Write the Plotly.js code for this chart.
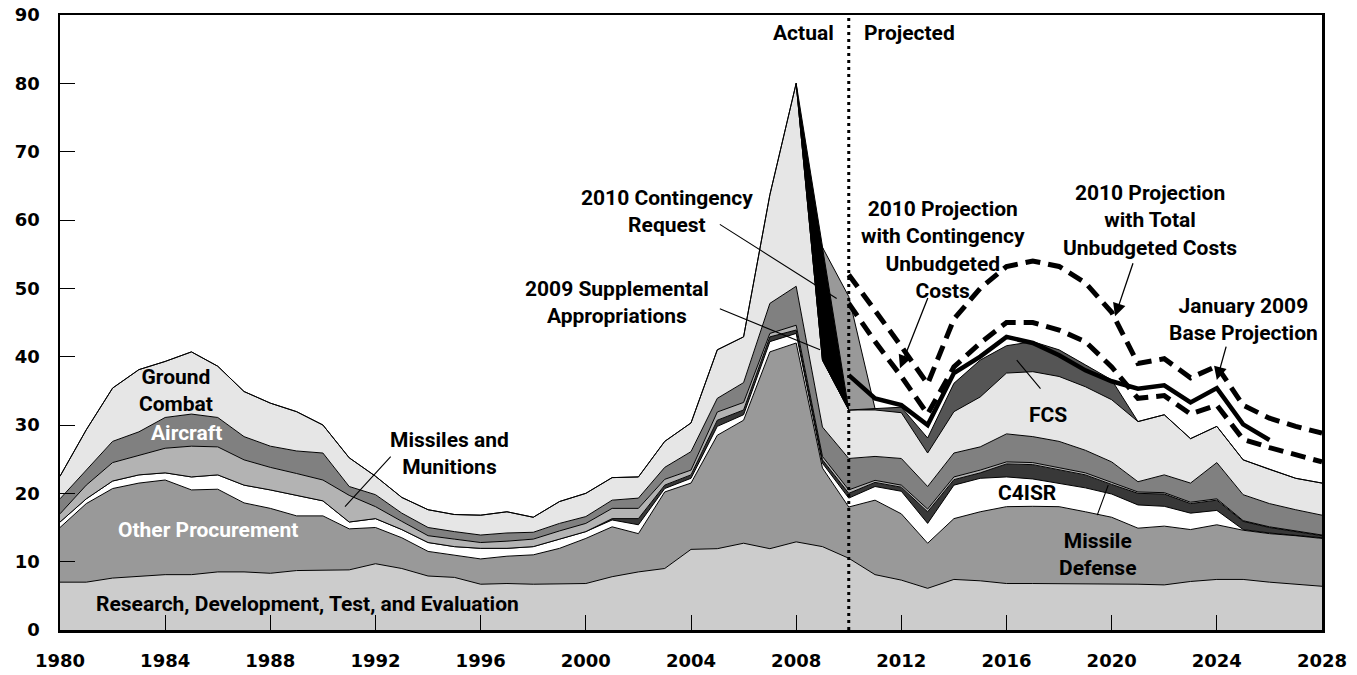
<!DOCTYPE html>
<html>
<head>
<meta charset="utf-8">
<script src="https://cdn.plot.ly/plotly-3.0.1.min.js"></script>
<style>
html,body{margin:0;padding:0;background:#fff;}
#chart{width:1357px;height:675px;}
</style>
</head>
<body>
<div id="chart"></div>
<script>
// ---------- DATA (billions of dollars) ----------
const years = [1980,1981,1982,1983,1984,1985,1986,1987,1988,1989,
               1990,1991,1992,1993,1994,1995,1996,1997,1998,1999,
               2000,2001,2002,2003,2004,2005,2006,2007,2008,2009,
               2010,2011,2012,2013,2014,2015,2016,2017,2018,2019,
               2020,2021,2022,2023,2024,2025,2026,2027,2028];

// cumulative top of each stacked layer
const rdteTop = [7.0,7.0,7.6,7.9,8.1,8.1,8.5,8.5,8.3,8.7,
                 8.7,8.8,9.7,9.0,7.9,7.7,6.7,6.8,6.7,6.7,
                 6.8,7.8,8.5,9.0,11.8,11.9,12.7,11.9,12.9,12.2,
                 10.5,8.1,7.3,6.1,7.4,7.2,6.8,6.8,6.8,6.8,
                 6.8,6.7,6.6,7.1,7.4,7.4,7.0,6.7,6.4];
const otherProcTop = [15.0,18.5,20.7,21.5,21.95,20.5,20.6,18.6,17.8,16.7,
                 16.7,14.8,15.0,13.5,11.5,11.0,10.4,10.8,11.0,11.95,
                 13.4,15.1,14.1,20.2,21.5,28.5,30.7,40.7,42.0,23.7,
                 18.0,19.0,17.0,12.7,16.3,17.3,18.05,18.1,18.05,17.3,
                 16.5,14.9,15.2,14.7,15.4,14.6,14.1,13.8,13.4];
const c4isrTop = [15.8,19.2,21.8,22.7,23.0,22.4,22.7,21.2,20.5,19.65,
                 18.9,15.8,16.3,14.7,12.8,12.2,11.95,11.95,12.2,13.3,
                 14.4,16.1,15.4,20.7,22.2,29.8,31.5,42.2,43.4,24.4,
                 19.3,21.0,20.3,15.6,21.2,22.2,22.4,22.1,21.5,20.8,
                 19.9,18.3,18.1,17.1,17.5,14.7,14.2,13.9,13.5];
const missileDefTop = [15.8,19.2,21.8,22.7,23.0,22.4,22.7,21.2,20.5,19.65,
                 18.9,15.8,16.3,14.7,12.8,12.2,11.95,11.95,12.2,13.3,
                 14.4,16.3,16.3,21.2,22.7,30.7,32.2,42.9,43.9,24.9,
                 20.0,21.6,20.9,17.3,22.0,23.0,24.3,24.2,23.4,22.7,
                 21.3,20.0,19.9,18.5,19.0,15.9,15.0,14.4,13.8];
const missilesTop = [17.0,21.2,24.5,25.6,26.6,26.9,26.8,24.9,23.8,22.9,
                 21.95,19.7,18.05,15.9,13.8,13.3,12.8,13.0,13.3,14.5,
                 15.6,17.8,17.8,22.05,23.4,31.9,33.3,43.4,44.6,25.4,
                 20.5,21.9,21.2,17.7,22.4,23.4,24.6,24.5,23.7,23.0,
                 21.6,20.2,20.1,18.7,19.2,16.0,15.1,14.5,13.9];
const aircraftTop = [19.2,23.4,27.6,29.0,31.1,31.6,31.1,28.3,26.9,26.2,
                 25.9,21.0,19.8,17.1,15.0,14.4,13.9,14.2,14.3,15.6,
                 16.6,19.0,19.3,23.8,26.1,33.9,36.2,47.8,50.3,29.7,
                 25.1,25.4,25.1,21.0,25.9,26.8,28.7,28.3,27.6,26.3,
                 24.6,21.7,22.7,21.5,24.5,19.8,18.5,17.6,16.8];
const groundTop = [22.5,29.3,35.4,38.1,39.3,40.7,38.6,34.9,33.2,31.95,
                 30.0,25.2,22.5,19.4,17.6,16.9,16.8,17.3,16.5,18.8,
                 20.0,22.3,22.4,27.6,30.3,41.0,42.9,63.7,80.0,39.5,
                 32.2,32.2,31.8,25.9,31.95,34.1,37.6,37.8,37.1,35.6,
                 33.7,30.5,31.5,28.0,29.8,24.9,23.5,22.2,21.5];
const fcsTop = [22.5,29.3,35.4,38.1,39.3,40.7,38.6,34.9,33.2,31.95,
                 30.0,25.2,22.5,19.4,17.6,16.9,16.8,17.3,16.5,18.8,
                 20.0,22.3,22.4,27.6,30.3,41.0,42.9,63.7,80.0,39.5,
                 32.2,32.4,32.6,28.1,36.1,39.5,41.6,42.2,41.0,38.8,
                 36.6,30.5,31.5,28.0,29.8,24.9,23.5,22.2,21.5];

// 2009 supplemental appropriations (black wedge)
const suppYears = [2008,2009,2010];
const suppBase  = [80.0,39.5,32.2];
const suppTop   = [80.0,56.0,32.2];
// 2010 contingency request (gray wedge)
const contYears = [2009,2010,2011];
const contBase  = [56.0,32.2,32.4];
const contTop   = [56.0,48.8,32.4];

// projections
const projYears = [2010,2011,2012,2013,2014,2015,2016,2017,2018,2019,
                   2020,2021,2022,2023,2024,2025,2026,2027,2028];
const totalUnbudgeted = [52.0,46.8,41.5,36.0,45.5,50.0,53.2,54.0,53.2,50.8,
                   46.5,39.0,39.7,36.9,38.6,32.9,31.0,29.8,28.8];
const contingencyUnbudgeted = [47.8,42.2,37.1,31.6,38.5,42.0,45.0,45.0,43.9,42.2,
                   38.5,33.9,34.3,31.6,32.9,27.9,26.7,25.6,24.6];
const baseYears = [2010,2011,2012,2013,2014,2015,2016,2017,2018,2019,
                   2020,2021,2022,2023,2024,2025,2026];
const baseProjection = [37.3,33.9,32.9,30.0,37.6,40.0,42.9,42.0,40.2,38.0,
                   36.4,35.3,35.8,33.3,35.4,30.1,27.8];

const xTicks = [1980,1984,1988,1992,1996,2000,2004,2008,2012,2016,2020,2024,2028];
const yTicks = [0,10,20,30,40,50,60,70,80,90];

// ---------- TRACES ----------
const edge = {color:'#000', width:1};
function layer(y, fillcolor, fill, x){
  return {x: x || years, y: y, type:'scatter', mode:'lines', fill: fill || 'tonexty',
          fillcolor: fillcolor, line: edge, hoverinfo:'skip', showlegend:false};
}
const traces = [
  layer(rdteTop, '#cccccc', 'tozeroy'),
  layer(otherProcTop, '#999999'),
  layer(c4isrTop, '#ffffff'),
  layer(missileDefTop, '#383838'),
  layer(missilesTop, '#b3b3b3'),
  layer(aircraftTop, '#808080'),
  layer(groundTop, '#e6e6e6'),
  layer(fcsTop, '#555555'),
  {x: suppYears, y: suppBase, type:'scatter', mode:'lines', line: edge, hoverinfo:'skip', showlegend:false},
  layer(suppTop, '#000000', 'tonexty', suppYears),
  {x: contYears, y: contBase, type:'scatter', mode:'lines', line: edge, hoverinfo:'skip', showlegend:false},
  layer(contTop, '#999999', 'tonexty', contYears),
  {x: projYears, y: totalUnbudgeted, type:'scatter', mode:'lines',
   line:{color:'#000', width:5, dash:'15px,8px'}, hoverinfo:'skip', showlegend:false},
  {x: projYears, y: contingencyUnbudgeted, type:'scatter', mode:'lines',
   line:{color:'#000', width:5, dash:'15px,8px'}, hoverinfo:'skip', showlegend:false},
  {x: baseYears, y: baseProjection, type:'scatter', mode:'lines',
   line:{color:'#000', width:4.5}, hoverinfo:'skip', showlegend:false}
];

// ---------- LAYOUT ----------
const LF = 'Roboto, sans-serif';
function txt(text, x, y, color){
  return {text:text, x:x, y:y, xref:'x', yref:'y', showarrow:false,
    font:{family:LF, size:21, color:color||'#000', weight:'bold'}, align:'center'};
}
function ptr(x, y, ax, ay, head){
  return {text:'', x:x, y:y, ax:ax, ay:ay, xref:'x', yref:'y', axref:'x', ayref:'y',
    showarrow:true, arrowhead: head?2:0, arrowsize: head?2:1, arrowwidth: head?1.3:1.1, arrowcolor:'#000'};
}
const annotations = [
  txt('Actual', 2008.26, 87.4),
  txt('Projected', 2012.3, 87.4),
  txt('Ground<br>Combat', 1984.41, 35.1),
  txt('Aircraft', 1984.83, 28.8, '#fff'),
  txt('Missiles and<br>Munitions', 1994.83, 25.8),
  txt('Other Procurement', 1985.63, 14.6, '#fff'),
  txt('Research, Development, Test, and Evaluation', 1989.4, 3.8),
  txt('2010 Contingency<br>Request', 2003.09, 61.2),
  txt('2009 Supplemental<br>Appropriations', 2001.19, 47.9),
  txt('2010 Projection<br>with Contingency<br>Unbudgeted<br>Costs', 2013.59, 55.6),
  txt('2010 Projection<br>with Total<br>Unbudgeted Costs', 2021.46, 60.0),
  txt('January 2009<br>Base Projection', 2025.0, 45.4),
  txt('FCS', 2017.58, 31.5),
  txt('C4ISR', 2016.78, 20.05),
  txt('Missile<br>Defense', 2019.48, 11.0),
  ptr(1990.84, 18.05, 1992.63, 25.6, false),
  ptr(2009.54, 48.5, 2005.04, 59.5, false),
  ptr(2008.91, 41.0, 2005.04, 47.1, false),
  ptr(2011.95, 38.3, 2013.03, 48.8, true),
  ptr(2020.13, 45.9, 2020.83, 53.9, true),
  ptr(2024.0, 36.6, 2024.37, 41.7, true),
  ptr(2016.39, 39.5, 2017.34, 35.1, false),
  ptr(2019.87, 21.2, 2019.43, 16.6, false)
];

const tf = {family:'DejaVu Sans', size:18, color:'#000', weight:'bold'};
const layout = {
  width:1357, height:675,
  margin:{l:60, r:35, t:15, b:45},
  paper_bgcolor:'#fff', plot_bgcolor:'#fff',
  showlegend:false,
  xaxis:{range:[1980,2028], tickvals:xTicks, ticktext:xTicks.map(String),
    ticks:'inside', ticklen:15, tickwidth:1, tickcolor:'#000',
    showline:true, mirror:true, linecolor:'#000', linewidth:2.5,
    showgrid:false, zeroline:false, ticklabelstandoff:13, tickfont:tf},
  yaxis:{range:[0,90], tickvals:yTicks, ticktext:yTicks.map(String),
    ticks:'inside', ticklen:15, tickwidth:1, tickcolor:'#000',
    showline:true, mirror:true, linecolor:'#000', linewidth:2.5,
    showgrid:false, zeroline:false, ticklabelstandoff:14, tickfont:tf},
  shapes:[{type:'line', xref:'x', yref:'y', x0:2010, x1:2010, y0:0, y1:90,
    line:{color:'#000', width:3, dash:'3px,4px'}}],
  annotations: annotations
};

Plotly.newPlot('chart', traces, layout, {staticPlot:true, displayModeBar:false});
</script>
</body>
</html>
